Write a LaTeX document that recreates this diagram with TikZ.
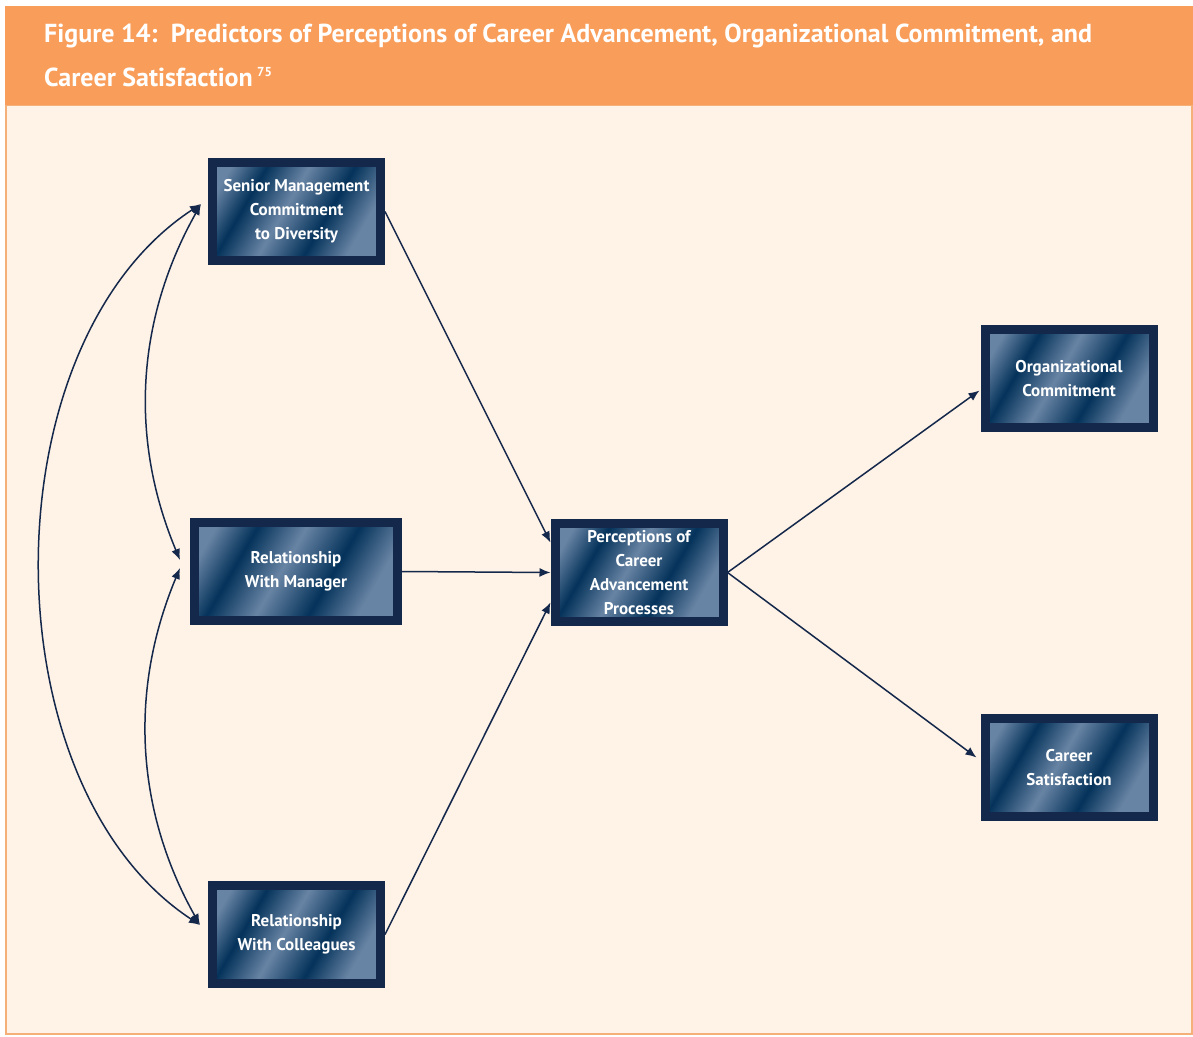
\documentclass[tikz,border=0pt]{standalone}
\usepackage{fontspec}
\setmainfont{PT Sans}
\usetikzlibrary{arrows.meta,calc}

\definecolor{navy}{RGB}{20,40,76}
\definecolor{stripedark}{RGB}{4,50,90}
\definecolor{stripelight}{RGB}{104,132,164}
\definecolor{headorange}{RGB}{249,158,90}
\definecolor{bodycream}{RGB}{255,242,230}
\definecolor{edgeorange}{RGB}{245,176,122}

\pgfdeclarehorizontalshading{boxstripes}{100bp}{%
    color(0bp)=(stripelight); color(22bp)=(stripelight);
    color(33bp)=(stripedark); color(46bp)=(stripelight);
    color(60bp)=(stripedark); color(73bp)=(stripelight);
    color(100bp)=(stripelight)}

\begin{document}
\begin{tikzpicture}[x=1pt,y=-1pt,
    box/.style={draw=navy, line width=9pt, shading=boxstripes, shading angle=-30,
        minimum width=168pt, minimum height=98pt, inner sep=0pt, align=center,
        text=white, font=\bfseries\fontsize{17}{24}\selectfont},
    link/.style={navy, line width=1.5pt, -{Latex[length=11pt,width=9pt]}},
    both/.style={link, {Latex[length=11pt,width=9pt]}-{Latex[length=11pt,width=9pt]}},
]
    \useasboundingbox (0,0) rectangle (1193,1036);
    % frame and heading
    \fill[white] (0,0) rectangle (1193,1036);
    \filldraw[fill=bodycream, draw=edgeorange, line width=2pt] (6,105) rectangle (1192,1034);
    \fill[headorange] (5,6) rectangle (1193,105);
    \path[nodes={anchor=base west, inner sep=0pt, text=white,
            font=\bfseries\fontsize{26}{30}\selectfont}]
        (44,42) node (title1) {Figure 14:\ \ Predictors of Perceptions of Career Advancement, Organizational Commitment, and}
        (44,86) node (title2) {Career Satisfaction\,\textsuperscript{\fontsize{13}{13}\selectfont 75}};

    % boxes
    \node[box] (senior) at (296.5,211.5) {Senior Management\\Commitment\\to Diversity};
    \node[box, minimum width=203pt] (manager) at (296,571.5) {Relationship\\With Manager};
    \node[box] (colleagues) at (296.5,934.5) {Relationship\\With Colleagues};
    \node[box] (perceptions) at (639,572.5) {Perceptions of\\Career\\Advancement\\Processes};
    \node[box] (orgcommit) at (1069,378.5) {Organizational\\Commitment};
    \node[box] (careersat) at (1069,767.5) {Career\\Satisfaction};

    % arrows into and out of the middle box
    \draw[link] (senior.east) -- ($(perceptions.west)+(0,-30)$);
    \draw[link] (manager.east) -- (perceptions.west);
    \draw[link] (colleagues.east) -- ($(perceptions.west)+(0,30)$);
    \draw[link] (perceptions.east) -- ($(orgcommit.west)+(-1,12)$);
    \draw[link] (perceptions.east) -- ($(careersat.west)+(-4,-10)$);

    % correlations on the left
    \coordinate (seniortip) at ($(senior.west)+(-7,-7.5)$);
    \coordinate (managertop) at ($(manager.west)+(-10,-11.5)$);
    \coordinate (managerlow) at ($(manager.west)+(-10,-3.5)$);
    \coordinate (colleaguestip) at ($(colleagues.west)+(-8,-9.5)$);
    \draw[both] (seniortip) .. controls +(-58,103) and +(-56,-134) .. (managertop);
    \draw[both] (managerlow) .. controls +(-56,134) and +(-58,-103) .. (colleaguestip);
    \draw[both] (seniortip) .. controls +(-214,140) and +(-213,-140) .. (colleaguestip);
\end{tikzpicture}
\end{document}
